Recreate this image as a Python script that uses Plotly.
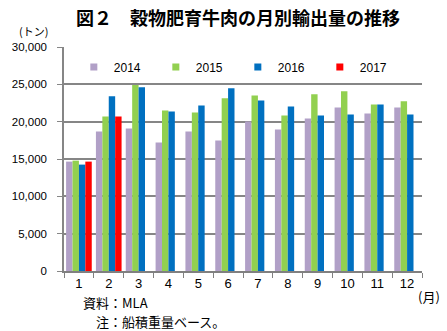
import plotly.graph_objects as go

months = [str(m) for m in range(1, 13)]
v2014 = [14650, 18680, 19090, 17200, 18680, 17470, 20030, 18950, 20430, 21910, 21100, 21910]
v2015 = [14780, 20700, 24900, 21500, 21240, 23120, 23520, 20830, 23660, 24060, 22310, 22720]
v2016 = [14250, 23390, 24600, 21370, 22180, 24460, 22850, 22040, 20830, 20970, 22310, 20970]
v2017 = [14650, 20700] + [None] * 10

series = [("2014", v2014, "#b1a0c7"), ("2015", v2015, "#92d050"),
          ("2016", v2016, "#0070c0"), ("2017", v2017, "#ff0000")]

JP = "Noto Sans CJK JP"
NUM = "Liberation Sans Narrow, Liberation Sans, Arial"
W, H = 447, 331
L, R, T, B = 58, 25, 47, 60
pw, ph = W - L - R, H - T - B

def px(x):
    return (x - L) / pw

def py(y):
    return (H - B - y) / ph

fig = go.Figure()
for name, vals, col in series:
    fig.add_trace(go.Bar(x=months, y=vals, name=name, marker_color=col,
                         marker_line_width=0, showlegend=False))
# legend entries with small square symbols
for name, vals, col in series:
    fig.add_trace(go.Scatter(x=[None], y=[None], mode="markers", name=name,
                             marker=dict(symbol="square", size=7, color=col)))

fig.update_layout(
    width=W, height=H,
    margin=dict(l=L, r=R, t=T, b=B),
    paper_bgcolor="white", plot_bgcolor="white",
    barmode="group", bargap=0.14, bargroupgap=0,
    font=dict(family=NUM, size=12, color="black"),
    showlegend=True,
    legend=dict(orientation="h", x=px(68), xanchor="left", y=py(67), yanchor="middle",
                entrywidth=37, entrywidthmode="pixels", itemwidth=30,
                font=dict(size=12, family=NUM), bgcolor="rgba(0,0,0,0)",
                traceorder="normal"),
    xaxis=dict(type="category", tickson="boundaries", ticks="outside", ticklen=5,
               tickcolor="#808080", tickwidth=1, showline=True, linecolor="#808080",
               linewidth=1.5, showgrid=False, tickfont=dict(size=13, family=NUM)),
    yaxis=dict(range=[0, 30000], dtick=5000, tickformat=",", showgrid=True,
               gridcolor="#868686", gridwidth=1.5, showline=True, linecolor="#868686",
               linewidth=1.5, zeroline=False, ticks="outside", ticklen=5,
               tickcolor="#868686", ticklabelstandoff=8,
               tickfont=dict(size=11.5, family=NUM)),
)

annotations = [
    dict(text="<b>図２　穀物肥育牛肉の月別輸出量の推移</b>", x=px(235), y=py(17),
         xanchor="center", yanchor="middle", font=dict(size=18, family=JP)),
    dict(text="(トン)", x=px(44), y=py(31), xanchor="right", yanchor="middle",
         font=dict(size=11, family=JP)),
    dict(text="(月)", x=px(429), y=py(296), xanchor="center", yanchor="middle",
         font=dict(size=13, family=JP)),
    dict(text="資料：MLA", x=px(75), y=py(302), xanchor="left", yanchor="middle",
         font=dict(size=13, family=JP)),
    dict(text="注：船積重量ベース。", x=px(88), y=py(321), xanchor="left", yanchor="middle",
         font=dict(size=13, family=JP)),
]
for a in annotations:
    a.update(xref="paper", yref="paper", showarrow=False)
fig.update_layout(annotations=annotations)
fig.write_html("out.html")
